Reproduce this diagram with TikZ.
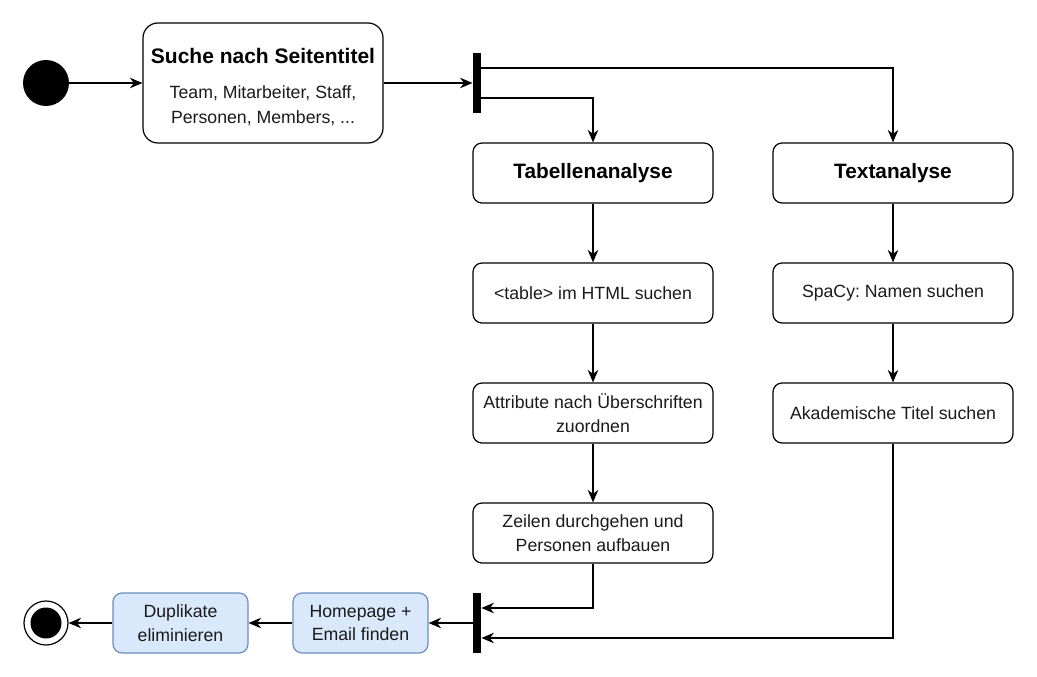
\documentclass[tikz,border=0pt]{standalone}
\usepackage{fontspec}
\setmainfont{Liberation Sans}
\usetikzlibrary{arrows.meta,positioning,calc}
\definecolor{bluefill}{HTML}{DAE8FC}
\definecolor{blueline}{HTML}{6C8EBF}
\definecolor{txt}{HTML}{1A1A1A}
\frenchspacing
\tikzset{
  act/.style={draw=black, line width=1.2pt, rounded corners=9pt, minimum width=240pt, minimum height=60pt, inner sep=0pt, align=center, text=txt, font=\fontsize{17.7}{23.5}\selectfont},
  acttitle/.style={act, text=black, font=\fontsize{20.8}{24}\selectfont\bfseries},
  blueact/.style={act, fill=bluefill, draw=blueline, minimum width=135pt},
  bar/.style={fill=black, draw=none, minimum width=8.5pt, minimum height=60pt, inner sep=0pt},
  arr/.style={draw=black, line width=1.2pt, -{Stealth[length=12.5pt,width=10.5pt,inset=4pt]}},
}
\begin{document}
\begin{tikzpicture}[x=1pt,y=-1pt]
\useasboundingbox (0,0) rectangle (1037,677);
% start
\node[circle, fill=black, minimum size=46pt, inner sep=0pt] (start) at (46,83) {};
% first box
\node[draw=black, line width=1.2pt, rounded corners=15pt, minimum width=240pt, minimum height=120pt, inner sep=0pt] (search) at (263,83) {};
\node[font=\fontsize{21}{24}\selectfont\bfseries] (searchtitle) at (263,55.5) {Suche nach Seitentitel};
\node[align=center, text=txt, font=\fontsize{17.7}{25}\selectfont] (searchtext) at (263,106) {Team, Mitarbeiter, Staff,\\Personen, Members, ...};
% fork
\node[bar] (fork) at (477,83) {};
% columns
\node[acttitle] (tab) at (593,173) {Tabellenanalyse};
\node[acttitle] (textan) at (893,173) {Textanalyse};
\node[act] (table) at (593,293) {<table> im HTML suchen};
\node[act] (spacy) at (893,293) {SpaCy: Namen suchen};
\node[act] (attr) at (593,413) {Attribute nach Überschriften\\zuordnen};
\node[act] (akad) at (893,413) {Akademische Titel suchen};
\node[act] (zeilen) at (593,533) {Zeilen durchgehen und\\Personen aufbauen};
% join
\node[bar] (join) at (477,623) {};
\node[blueact] (home) at (360.5,623) {Homepage +\\Email finden};
\node[blueact] (dup) at (180.5,623) {Duplikate\\eliminieren};
% end
\node[circle, draw=black, line width=1.2pt, fill=white, minimum size=44pt, inner sep=0pt] (endo) at (46,623) {};
\node[circle, fill=black, minimum size=31pt, inner sep=0pt] (endi) at (46,623) {};
% connectors
\draw[arr] (start) -- (search);
\draw[arr] (search.east) -- (fork.west);
\draw[arr] ([yshift=15pt]fork.east) -| (textan.north);
\draw[arr] ([yshift=-15pt]fork.east) -| (tab.north);
\draw[arr] (tab) -- (table);
\draw[arr] (table) -- (attr);
\draw[arr] (attr) -- (zeilen);
\draw[arr] (textan) -- (spacy);
\draw[arr] (spacy) -- (akad);
\draw[arr] (zeilen.south) |- ([yshift=15pt]join.east);
\draw[arr] (akad.south) |- ([yshift=-15pt]join.east);
\draw[arr] (join.west) -- (home.east);
\draw[arr] (home.west) -- (dup.east);
\draw[arr] (dup.west) -- (endo.east);
\end{tikzpicture}
\end{document}
